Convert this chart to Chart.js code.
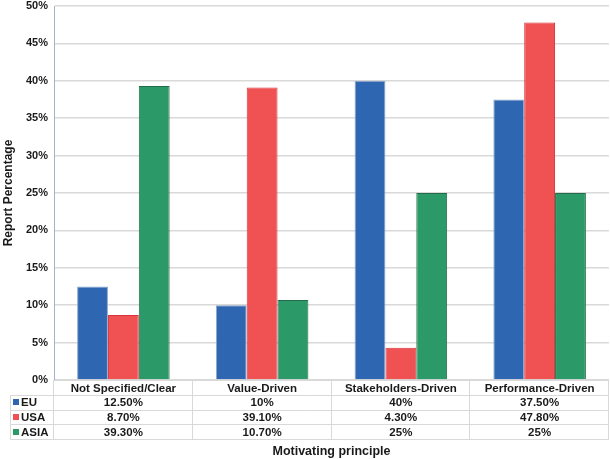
<!DOCTYPE html>
<html>
<head>
<meta charset="utf-8">
<script src="https://cdn.jsdelivr.net/npm/chart.js@4.4.1/dist/chart.umd.min.js"></script>
<style>
    html, body { margin: 0; padding: 0; background: #ffffff; }
    #wrap { width: 610px; height: 459px; }
</style>
</head>
<body>
<div id="wrap"><canvas id="chart" width="610" height="459"></canvas></div>
<script>
// --------------------------------------------
// Dados do gráfico
// --------------------------------------------
const categories = ['Not Specified/Clear', 'Value-Driven', 'Stakeholders-Driven', 'Performance-Driven'];
const euValues = [12.5, 10, 40, 37.5];
const usaValues = [8.7, 39.1, 4.3, 47.8];
const asiaValues = [39.3, 10.7, 25, 25];
const seriesNames = ['EU', 'USA', 'ASIA'];
const yTicks = [0, 5, 10, 15, 20, 25, 30, 35, 40, 45, 50];

const colors = {
    EU: { fill: '#2e66b1', border: '#8ea6c8' },
    USA: { fill: '#f05254', border: '#d8343c' },
    ASIA: { fill: '#2c9a68', border: '#226e4a' }
};

const FONT = "'Liberation Sans', Arial, sans-serif";
const GRID = '#d9d9d9';

// Formata valores da tabela: inteiros sem casas decimais
function fmtPct(v) {
    return Number.isInteger(v) ? v + '%' : v.toFixed(2) + '%';
}

// --------------------------------------------
// Plugin: tabela de dados abaixo do gráfico
// --------------------------------------------
const dataTablePlugin = {
    id: 'dataTable',
    afterDraw(chart) {
        const { ctx, chartArea, scales } = chart;
        const xs = scales.x;
        const left = chartArea.left;
        const right = chartArea.right;
        const colW = (right - left) / categories.length;
        const top = chartArea.bottom;
        const rowH = 14.8;
        const keyLeft = 10;
        const rows = [euValues, usaValues, asiaValues];

        ctx.save();
        ctx.strokeStyle = GRID;
        ctx.lineWidth = 1;

        // linhas horizontais
        ctx.beginPath();
        ctx.moveTo(left, top + 0.5);
        ctx.lineTo(right, top + 0.5);
        for (let r = 1; r <= rows.length + 1; r++) {
            const y = Math.round(top + r * rowH) + 0.5;
            ctx.moveTo(keyLeft, y);
            ctx.lineTo(right, y);
        }
        // linhas verticais
        for (let c = 0; c <= categories.length; c++) {
            const x = Math.round(left + c * colW) - 0.5;
            ctx.moveTo(x, top);
            ctx.lineTo(x, Math.round(top + (rows.length + 1) * rowH));
        }
        ctx.moveTo(keyLeft + 0.5, Math.round(top + rowH));
        ctx.lineTo(keyLeft + 0.5, Math.round(top + (rows.length + 1) * rowH));
        ctx.stroke();

        // cabeçalho (categorias)
        ctx.fillStyle = '#1a1a1a';
        ctx.font = 'bold 11.5px ' + FONT;
        ctx.textAlign = 'center';
        ctx.textBaseline = 'middle';
        categories.forEach((cat, i) => {
            ctx.fillText(cat, xs.getPixelForValue(i), top + rowH / 2 + 1);
        });

        // linhas de valores
        rows.forEach((vals, r) => {
            const yMid = top + (r + 1) * rowH + rowH / 2 + 1;
            const name = seriesNames[r];
            ctx.fillStyle = colors[name].fill;
            ctx.fillRect(keyLeft + 3, Math.round(yMid - 4), 6, 6);
            ctx.fillStyle = '#1a1a1a';
            ctx.textAlign = 'left';
            ctx.fillText(name, keyLeft + 11, yMid);
            ctx.textAlign = 'center';
            vals.forEach((v, i) => {
                ctx.fillText(fmtPct(v), xs.getPixelForValue(i), yMid);
            });
        });
        ctx.restore();
    }
};

function makeDataset(name, data) {
    return {
        label: name,
        data,
        backgroundColor: colors[name].fill,
        borderColor: colors[name].border,
        borderWidth: 1,
        categoryPercentage: 0.667,
        barPercentage: 1
    };
}

new Chart(document.getElementById('chart'), {
    type: 'bar',
    data: {
        labels: categories,
        datasets: [
            makeDataset('EU', euValues),
            makeDataset('USA', usaValues),
            makeDataset('ASIA', asiaValues)
        ]
    },
    options: {
        responsive: false,
        animation: false,
        layout: { padding: { top: 6, right: 1, bottom: 0, left: 0 } },
        plugins: {
            legend: { display: false },
            tooltip: { enabled: false }
        },
        scales: {
            x: {
                ticks: { display: false },
                grid: { display: false, drawTicks: false },
                border: { display: false },
                title: {
                    display: true,
                    text: 'Motivating principle',
                    color: '#1a1a1a',
                    font: { family: FONT, size: 12.5, weight: 'bold' },
                    padding: { top: 0, bottom: 0 }
                },
                afterFit(scale) { scale.height = 79; }
            },
            y: {
                min: 0,
                max: 50,
                afterBuildTicks(scale) {
                    scale.ticks = yTicks.map(v => ({ value: v }));
                },
                ticks: {
                    color: '#1a1a1a',
                    padding: 6,
                    font: { family: FONT, size: 11, weight: 'bold' },
                    callback: v => v + '%'
                },
                grid: { color: GRID, lineWidth: 1.5, drawTicks: false },
                border: { display: true, color: '#9fb4ca', width: 1 },
                title: {
                    display: true,
                    text: 'Report Percentage',
                    color: '#1a1a1a',
                    font: { family: FONT, size: 12, weight: 'bold' },
                    padding: { top: 1, bottom: 0 }
                },
                afterFit(scale) {
                    scale.width = 54;
                    scale.paddingTop = 0;
                    scale.paddingBottom = 0;
                }
            }
        }
    },
    plugins: [dataTablePlugin]
});
</script>
</body>
</html>
